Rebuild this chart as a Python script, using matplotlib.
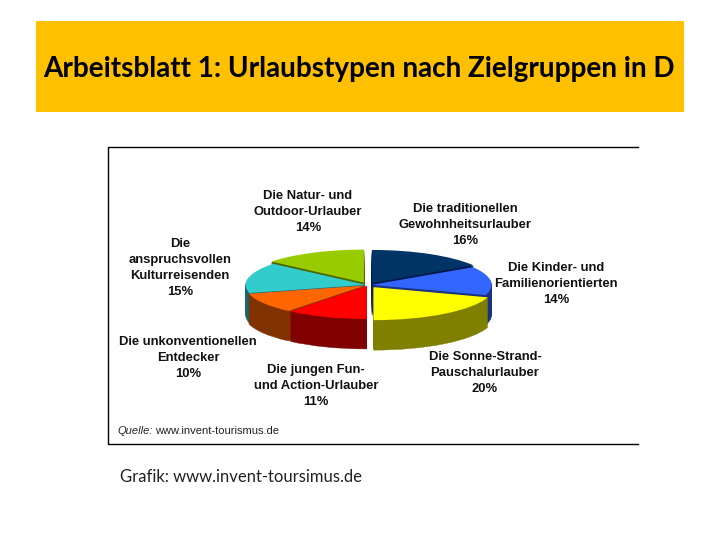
import numpy as np
import matplotlib
matplotlib.use("Agg")
import matplotlib.pyplot as plt
from matplotlib.patches import Wedge, Rectangle
from matplotlib.lines import Line2D

# Werte im Uhrzeigersinn ab 12 Uhr
namen = ["Die traditionellen\nGewohnheitsurlauber", "Die Kinder- und\nFamilienorientierten",
         "Die Sonne-Strand-\nPauschalurlauber", "Die jungen Fun-\nund Action-Urlauber",
         "Die unkonventionellen\nEntdecker", "Die\nanspruchsvollen\nKulturreisenden",
         "Die Natur- und\nOutdoor-Urlauber"]
werte = [16, 14, 20, 11, 10, 15, 14]
farben = ["#003366", "#3366ff", "#ffff00", "#ff0000", "#ff6600", "#33cccc", "#99cc00"]
seiten = ["#001a4d", "#1a3380", "#808000", "#800000", "#803300", "#1a6670", "#4d6600"]
explode = [0.07, 0.03, 0.08, 0.03, 0.03, 0.02, 0.08]
label_pos = [(465, 225), (556, 284), (485, 373), (316, 386), (188, 358), (180, 268), (308, 212)]

W, H = 720, 540
fig = plt.figure(figsize=(W / 100, H / 100), dpi=100, facecolor="white")

def fx(x):
    return x / W

def fy(y):
    return 1 - y / H

# Hintergrund in Pixelkoordinaten
bg = fig.add_axes([0, 0, 1, 1])
bg.set_xlim(0, W)
bg.set_ylim(H, 0)
bg.axis("off")
bg.add_patch(Rectangle((36, 21), 648, 91, color="#ffc000", lw=0))
bg.add_line(Line2D([638, 107.5, 107.5, 638], [146.5, 146.5, 443.5, 443.5], color="black", lw=1))

fig.text(fx(359), fy(69), "Arbeitsblatt 1: Urlaubstypen nach Zielgruppen in D", family="Lato",
         weight="bold", fontsize=20.1, ha="center", va="center", color="black")

# Torte: eigene Achse, y gestaucht
rx, ry, tiefe = 120, 33, 30
cx, cy = 368, 285
ax = fig.add_axes([fx(cx - 160), fy(cy + 90), 320 / W, 180 / H])
ax.set_xlim(-160 / rx, 160 / rx)
ax.set_ylim(-90 / ry, 90 / ry)
ax.axis("off")

anteile = np.array(werte) / sum(werte) * 360
start = np.concatenate([[0], np.cumsum(anteile)[:-1]])
ende = np.cumsum(anteile)
mitte = (start + ende) / 2

# hinten zuerst zeichnen
for i in np.argsort(-np.cos(np.radians(mitte))):
    dx = explode[i] * np.sin(np.radians(mitte[i]))
    dy = explode[i] * np.cos(np.radians(mitte[i]))
    t1, t2 = 90 - ende[i], 90 - start[i]
    for d in np.arange(tiefe, 0, -1.0):
        ax.add_patch(Wedge((dx, dy - d / ry), 1, t1, t2, fc=seiten[i], ec=seiten[i], lw=0.3))
    ax.add_patch(Wedge((dx, dy), 1, t1, t2, fc=farben[i], ec="none"))

# Beschriftung
for name, wert, (x, y) in zip(namen, werte, label_pos):
    n = name.count("\n") + 1
    for k, zeile in enumerate(name.split("\n")):
        fig.text(fx(x), fy(y + (k - n / 2) * 16), zeile, family="Liberation Sans", weight="bold",
                 fontsize=9.4, ha="center", va="center", color="#111111")
    fig.text(fx(x), fy(y + (n / 2) * 16), f"{wert}%", family="Liberation Sans", weight="bold",
             fontsize=9.4, ha="center", va="center", color="#111111")

fig.text(fx(117), fy(431), "Quelle:", family="Liberation Sans", style="italic", fontsize=8,
         ha="left", va="center", color="#222222")
fig.text(fx(155), fy(431), "www.invent-tourismus.de", family="Liberation Sans", fontsize=8,
         ha="left", va="center", color="#222222")
fig.text(fx(120), fy(477), "Grafik: www.invent-toursimus.de", family="Lato", fontsize=12,
         ha="left", va="center", color="#222222")

fig.savefig("out.png", dpi=100, facecolor="white")
